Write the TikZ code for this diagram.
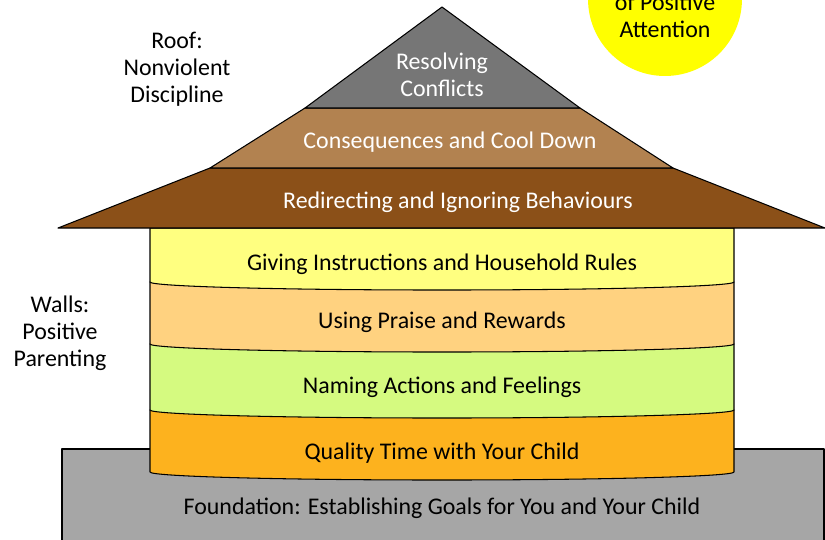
\documentclass[tikz,border=0pt]{standalone}
\usepackage{fontspec}
\setmainfont{Carlito}
\usetikzlibrary{positioning}
\definecolor{hsgray}{HTML}{767676}
\definecolor{hstan}{HTML}{B28250}
\definecolor{hsbrown}{HTML}{8B5018}
\definecolor{hsyellow}{HTML}{FFFF80}
\definecolor{hspeach}{HTML}{FFD280}
\definecolor{hsgreen}{HTML}{D5FA80}
\definecolor{hsorange}{HTML}{FDB21E}
\definecolor{hsstone}{HTML}{A6A6A6}
\definecolor{hssun}{HTML}{FFFF00}

\begin{document}
\begin{tikzpicture}[
  x=0.02cm, y=-0.02cm,
  every node/.style={font=\fontsize{13.6}{15.3}\selectfont, align=center, inner sep=0pt},
  layer/.style={draw=black, line width=0.6pt, line join=round},
  rooftext/.style={text=white},
]
\useasboundingbox (0,0) rectangle (825,539);

% Sun in the corner
\fill[hssun] (665,-1) circle (1.54cm);
\node (sun) at (665,16) {of Positive\\Attention};

% Foundation
\draw[layer, fill=hsstone] (62,449) rectangle (824,560);

% Walls, lowest band first
\draw[layer, fill=hsorange] (150,410) -- (150,472) arc[start angle=180, end angle=0, x radius=292, y radius=8] -- (734,410) -- cycle;
\draw[layer, fill=hsgreen] (150,344) -- (150,410) arc[start angle=180, end angle=0, x radius=292, y radius=8] -- (734,344) -- cycle;
\draw[layer, fill=hspeach] (150,282) -- (150,344) arc[start angle=180, end angle=0, x radius=292, y radius=8] -- (734,282) -- cycle;
\draw[layer, fill=hsyellow] (150,228) -- (150,282) arc[start angle=180, end angle=0, x radius=292, y radius=8] -- (734,228) -- cycle;

% Roof
\draw[layer, fill=hsbrown] (58,228) -- (210,168) -- (673,168) -- (825,228) -- cycle;
\draw[layer, fill=hstan] (210,168) -- (305,108) -- (580,108) -- (673,168) -- cycle;
\draw[layer, fill=hsgray] (305,108) -- (442,7) -- (580,108) -- cycle;

% Labels
\node[rooftext] (resolve) at (442,75) {Resolving\\Conflicts};
\node[rooftext] (cool) at (450,142) {Consequences and Cool Down};
\node[rooftext] (redirect) at (458,202) {Redirecting and Ignoring Behaviours};
\node (rules) at (442,264) {Giving Instructions and Household Rules};
\node (praise) at (442,322) {Using Praise and Rewards};
\node (naming) at (442,387) {Naming Actions and Feelings};
\node (quality) at (442,453) {Quality Time with Your Child};
\node (goals) at (442,508) {Foundation: Establishing Goals for You and Your Child};
\node (roof) at (177,69) {Roof:\\Nonviolent\\Discipline};
\node (walls) at (60,333) {Walls:\\Positive\\Parenting};

\end{tikzpicture}
\end{document}
